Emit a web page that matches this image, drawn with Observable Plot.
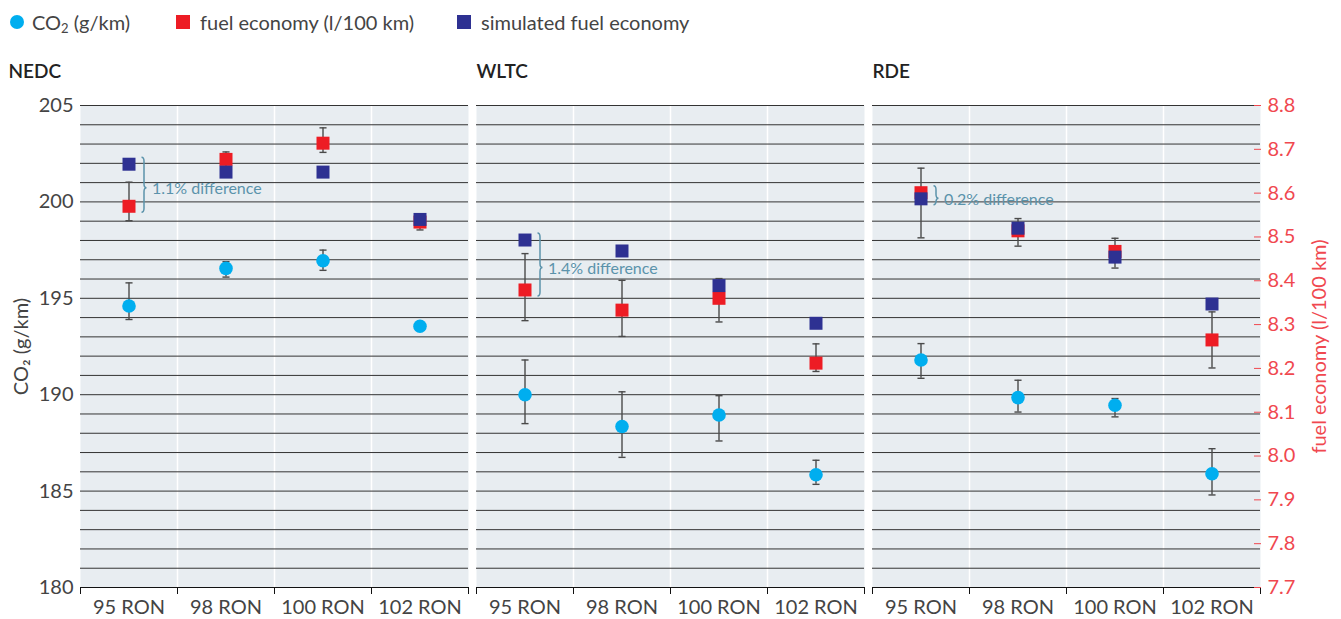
<!DOCTYPE html>
<html>
<head>
<meta charset="utf-8">
<script src="https://cdn.jsdelivr.net/npm/d3@7"></script>
<script src="https://cdn.jsdelivr.net/npm/@observablehq/plot@0.6"></script>
<style>
  body { margin: 0; background: #fff; font-family: Lato, "Noto Sans", sans-serif; }
  #legend { position: relative; height: 42px; color: #444; font-size: 20px; }
  #legend .sw { position: absolute; top: 15px; width: 14px; height: 14px; }
  #legend .lb { position: absolute; top: 10px; line-height: 24px; white-space: nowrap; }
  #legend sub { font-size: 13px; vertical-align: -3px; line-height: 0; }
</style>
</head>
<body>
<div id="legend">
  <span class="sw" style="left:10px;border-radius:50%;background:#00aeef"></span>
  <span class="lb" style="left:32px">CO<sub>2</sub> (g/km)</span>
  <span class="sw" style="left:176px;background:#ed1c24"></span>
  <span class="lb" style="left:200px">fuel economy (l/100 km)</span>
  <span class="sw" style="left:457px;background:#2e3192"></span>
  <span class="lb" style="left:481px">simulated fuel economy</span>
</div>
<div id="chart"></div>
<script>
// ---- data ----
const cycles = ["NEDC", "WLTC", "RDE"];
const rons = ["95 RON", "98 RON", "100 RON", "102 RON"];

// CO2 (g/km): mean, low, high — per cycle, per RON
const co2 = {
  NEDC: [194.6, 196.55, 196.95, 193.55],
  WLTC: [190.0, 188.35, 188.95, 185.85],
  RDE:  [191.8, 189.85, 189.45, 185.9]
};
const co2Lo = {
  NEDC: [193.9, 196.1, 196.45, 193.45],
  WLTC: [188.5, 186.75, 187.6, 185.35],
  RDE:  [190.85, 189.1, 188.85, 184.8]
};
const co2Hi = {
  NEDC: [195.8, 196.9, 197.5, 193.65],
  WLTC: [191.8, 190.15, 189.95, 186.6],
  RDE:  [192.65, 190.75, 189.8, 187.2]
};

// measured fuel economy (l/100 km): mean, low, high
const fuel = {
  NEDC: [8.570, 8.677, 8.714, 8.534],
  WLTC: [8.379, 8.333, 8.360, 8.212],
  RDE:  [8.601, 8.514, 8.467, 8.265]
};
const fuelLo = {
  NEDC: [8.537, 8.659, 8.693, 8.516],
  WLTC: [8.309, 8.273, 8.306, 8.193],
  RDE:  [8.498, 8.479, 8.429, 8.201]
};
const fuelHi = {
  NEDC: [8.625, 8.694, 8.749, 8.548],
  WLTC: [8.462, 8.401, 8.405, 8.256],
  RDE:  [8.657, 8.542, 8.497, 8.329]
};

// simulated fuel economy (l/100 km)
const simFuel = {
  NEDC: [8.666, 8.648, 8.648, 8.540],
  WLTC: [8.493, 8.468, 8.389, 8.303],
  RDE:  [8.587, 8.520, 8.454, 8.347]
};

// annotations
const annoCycles = ["NEDC", "WLTC", "RDE"];
const annoRon = ["95 RON", "95 RON", "95 RON"];
const annoText = ["1.1% difference", "1.4% difference", "0.2% difference"];

// axes
const co2Domain = [180, 205];
const fuelDomain = [7.7, 8.8];
const co2Ticks = [180, 185, 190, 195, 200, 205];
const fuelTicks = [7.7, 7.8, 7.9, 8.0, 8.1, 8.2, 8.3, 8.4, 8.5, 8.6, 8.7, 8.8];
const gridStep = 1;

// ---- build tables ----
const toY = f => co2Domain[0] + (f - fuelDomain[0]) * (co2Domain[1] - co2Domain[0]) / (fuelDomain[1] - fuelDomain[0]);
const fromY = v => fuelDomain[0] + (v - co2Domain[0]) * (fuelDomain[1] - fuelDomain[0]) / (co2Domain[1] - co2Domain[0]);

const rows = [];
for (const c of cycles) {
  rons.forEach((r, i) => {
    rows.push({
      cycle: c, ron: r, x: i + 0.5,
      co2: co2[c][i], co2Lo: co2Lo[c][i], co2Hi: co2Hi[c][i],
      fe: toY(fuel[c][i]), feLo: toY(fuelLo[c][i]), feHi: toY(fuelHi[c][i]),
      sim: toY(simFuel[c][i])
    });
  });
}
const annos = annoCycles.map((c, k) => {
  const i = rons.indexOf(annoRon[k]);
  const a = toY(fuel[c][i]), b = toY(simFuel[c][i]);
  return {cycle: c, x: i + 0.5, top: Math.max(a, b), bottom: Math.min(a, b), mid: (a + b) / 2, text: annoText[k]};
});
const gridValues = d3.range(co2Domain[0] + gridStep, co2Domain[1] + gridStep / 2, gridStep);

const RED_AXIS = "#f0484f";
const ANNO = "#5b93ab";
const HALF = 6.5;
const capSymbol = {
  draw(ctx, size) { const w = Math.sqrt(size); ctx.moveTo(-w / 2, 0); ctx.lineTo(w / 2, 0); }
};

const marginLeft = 80, marginRight = 81;

const chart = Plot.plot({
  width: 1341,
  height: 577,
  marginLeft, marginRight,
  marginTop: 63,
  marginBottom: 32,
  style: {fontFamily: "Lato, 'Noto Sans', sans-serif", fontSize: "20px", color: "#444", background: "white", overflow: "visible"},
  fx: {domain: cycles, paddingInner: 8 / 396, paddingOuter: 0, axis: null, label: null, round: false},
  x: {type: "linear", domain: [0, rons.length], axis: null},
  y: {domain: co2Domain, axis: null},
  marks: [
    Plot.frame({fill: "#e8edf1", stroke: "none"}),
    Plot.ruleX(d3.range(1, rons.length), {stroke: "white", strokeWidth: 1.5}),
    Plot.ruleY(gridValues, {stroke: "#333", strokeWidth: 1}),
    Plot.ruleY([co2Domain[0]], {stroke: "#111", strokeWidth: 1.2}),
    Plot.axisX({ticks: d3.range(0, rons.length + 1), tickSize: 7, tickFormat: () => "", stroke: "#111", label: null}),
    Plot.axisX({ticks: rons.map((d, i) => i + 0.5), tickSize: 0, tickPadding: 12, tickFormat: v => rons[Math.floor(v)], fill: "#444", fontSize: 20, label: null}),
    Plot.axisY({anchor: "left", ticks: co2Ticks, tickSize: 0, tickPadding: 7, fontSize: 20, fill: "#444",
      label: "CO₂ (g/km)", labelAnchor: "center", labelOffset: 67, labelArrow: false}),
    Plot.axisY({anchor: "right", ticks: fuelTicks.map(toY), tickSize: 7, dx: -7, tickFormat: () => "", stroke: RED_AXIS, label: null}),
    Plot.axisY({anchor: "right", ticks: fuelTicks.map(toY), tickSize: 0, tickPadding: 7, fontSize: 20,
      tickFormat: v => fromY(v).toFixed(1), fill: RED_AXIS,
      label: "fuel economy (l/100 km)", labelAnchor: "center", labelOffset: 65, labelArrow: false}),

    // facet titles
    Plot.text([cycles[0]], {fx: d => d, text: d => d, frameAnchor: "top-left", dx: -(marginLeft - 8), dy: -34,
      lineAnchor: "middle", textAnchor: "start", fontSize: 19, fontWeight: 600, fill: "#222"}),
    Plot.text(cycles.slice(1), {fx: d => d, text: d => d, frameAnchor: "top-left", dy: -34,
      lineAnchor: "middle", textAnchor: "start", fontSize: 19, fontWeight: 600, fill: "#222"}),

    // error bars
    Plot.ruleX(rows, {fx: "cycle", x: "x", y1: "co2Lo", y2: "co2Hi", stroke: "#4a4a4a", strokeWidth: 1.4}),
    Plot.dot(rows, {fx: "cycle", x: "x", y: "co2Lo", symbol: capSymbol, r: 4, stroke: "#4a4a4a", strokeWidth: 1.4}),
    Plot.dot(rows, {fx: "cycle", x: "x", y: "co2Hi", symbol: capSymbol, r: 4, stroke: "#4a4a4a", strokeWidth: 1.4}),
    Plot.ruleX(rows, {fx: "cycle", x: "x", y1: "feLo", y2: "feHi", stroke: "#4a4a4a", strokeWidth: 1.4}),
    Plot.dot(rows, {fx: "cycle", x: "x", y: "feLo", symbol: capSymbol, r: 4, stroke: "#4a4a4a", strokeWidth: 1.4}),
    Plot.dot(rows, {fx: "cycle", x: "x", y: "feHi", symbol: capSymbol, r: 4, stroke: "#4a4a4a", strokeWidth: 1.4}),

    // points
    Plot.dot(rows, {fx: "cycle", x: "x", y: "co2", r: 6.8, fill: "#00aeef"}),
    Plot.dot(rows, {fx: "cycle", x: "x", y: "fe", symbol: "square", r: 7.33, fill: "#ed1c24"}),
    Plot.dot(rows, {fx: "cycle", x: "x", y: "sim", symbol: "square", r: 7.33, fill: "#2e3192"}),

    // braces
    Plot.ruleX(annos, {fx: "cycle", x: "x", y1: "top", y2: "bottom", stroke: ANNO, strokeWidth: 1.5,
      render(index, scales, values) {
        const g = d3.create("svg:g").attr("fill", "none").attr("stroke", ANNO).attr("stroke-width", 1.5);
        for (const i of index) {
          const x0 = values.x[i] + 13;
          const a = Math.min(values.y1[i], values.y2[i]) - HALF;
          const b = Math.max(values.y1[i], values.y2[i]) + HALF;
          const m = (a + b) / 2 + 3, w = 5, r = 4, xm = x0 + w / 2;
          g.append("path").attr("d",
            `M${x0},${a} Q${xm},${a} ${xm},${a + r} L${xm},${m - r} Q${xm},${m} ${x0 + w},${m} ` +
            `Q${xm},${m} ${xm},${m + r} L${xm},${b - r} Q${xm},${b} ${x0},${b}`);
        }
        return g.node();
      }}),
    Plot.text(annos, {fx: "cycle", x: "x", y: "mid", text: "text", dx: 23, dy: 4, textAnchor: "start", fill: ANNO, fontSize: 16})
  ]
});
document.getElementById("chart").appendChild(chart);
</script>
</body>
</html>
